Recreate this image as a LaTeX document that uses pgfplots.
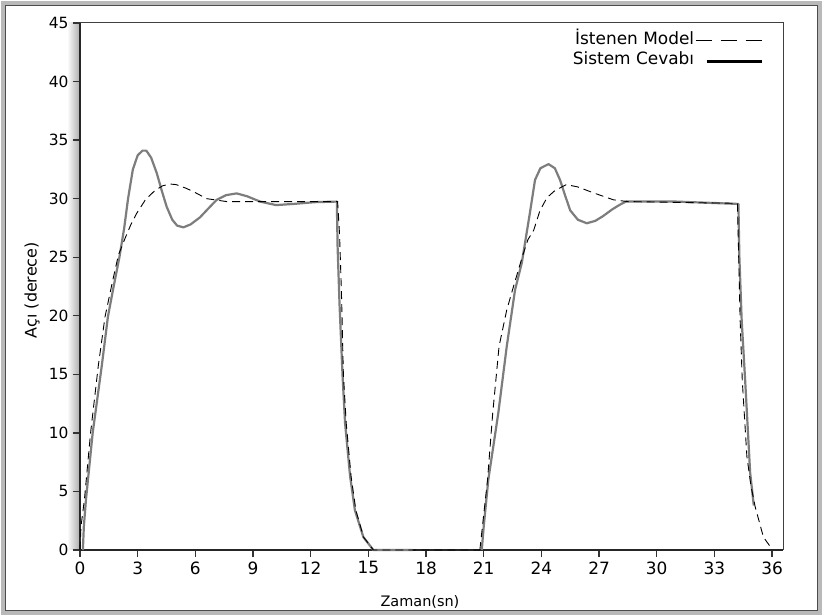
\documentclass[border=0pt]{standalone}
\usepackage{fontspec}
\setmainfont{DejaVu Sans}
\usepackage{pgfplots}
\pgfplotsset{compat=1.18}
\begin{document}
\begin{tikzpicture}[x=1bp,y=1bp]
\path[use as bounding box] (0,0) rectangle (823,616);
\fill[white] (0,0) rectangle (823,616);
\draw[gray!55, line width=4bp] (3,3) rectangle (820,613);
\draw[black!70, line width=0.8bp] (5.5,5.5) rectangle (817.5,610.5);
\shade[left color=white, right color=gray!60] (67,66) rectangle (79,593);
\begin{axis}[
  at={(80bp,66bp)}, anchor=south west, scale only axis,
  width=703bp, height=527bp,
  xmin=0, xmax=36.57, ymin=0, ymax=45,
  xtick={0,3,...,36}, ytick={0,5,...,45},
  tick pos=left, tick align=outside,
  major tick length=7bp,
  tick style={black!80, line width=1.3bp},
  axis line style={black!75, line width=1bp},
  /pgf/number format/assume math mode=true,
  y tick label style={font=\fontsize{15.5}{15.5}\selectfont, xshift=-1bp},
  x tick label style={font=\fontsize{17}{17}\selectfont, yshift=-1bp},
  xlabel={Zaman(sn)},
  xlabel style={at={(axis description cs:0.4836,-0.0987)}, anchor=center, font=\fontsize{14.5}{14.5}\selectfont},
  ylabel={Açı (derece)},
  ylabel style={at={(axis description cs:-0.068,0.493)}, anchor=center, font=\fontsize{16}{16}\selectfont},
  legend plot pos=right,
  legend cell align=right,
  legend style={at={(axis description cs:0.9716,0.990)}, anchor=north east, draw=none, fill=none,
    font=\fontsize{17}{17}\selectfont, row sep=3.5bp, inner sep=0bp, nodes={inner sep=1bp}},
  clip=false,
]
\draw[black!85, line width=2.2bp] (rel axis cs:0,1) -- (rel axis cs:0,0) -- (rel axis cs:1,0);
\addlegendimage{legend image code/.code={\path[draw=none] (0bp,-6bp) -- (0bp,6bp); \draw[black, line width=0.9bp, dash pattern=on 16bp off 9bp] (0bp,-3bp) -- (66bp,-3bp);}}
\addlegendentry{İstenen Model}
\addlegendimage{legend image code/.code={\path[draw=none] (0bp,-6bp) -- (66bp,6bp); \draw[black, line width=2.5bp] (11bp,-2.5bp) -- (66bp,-2.5bp);}}
\addlegendentry{Sistem Cevabı}
% Sistem Cevabi (solid, gray)
\addplot[forget plot, color={rgb,255:red,125;green,125;blue,125}, line width=2.2bp, line join=round] coordinates {
(0.15,0) (0.2,2) (0.31,4.3) (0.66,10) (1.13,15.7) (1.45,19.9) (1.75,22.5) (2.05,25) (2.3,27.5) (2.5,30) (2.75,32.5) (3.0,33.7) (3.25,34.1) (3.45,34.1) (3.7,33.5) (3.99,32.2) (4.25,30.7) (4.51,29.3) (4.8,28.2) (5.05,27.7) (5.38,27.55) (5.75,27.8) (6.24,28.4) (6.7,29.2) (7.11,29.9) (7.6,30.3) (8.15,30.45) (8.7,30.2) (9.37,29.75) (10.2,29.45) (11.1,29.55) (12.2,29.7) (13.36,29.75) (13.4,25.9) (13.5,21) (13.66,14.8) (13.79,10.8) (14.05,6.3) (14.3,3.4) (14.74,1.1) (15.26,0) (17.3,0)
};
\addplot[forget plot, color={rgb,255:red,125;green,125;blue,125}, line width=2.2bp, line join=round] coordinates {
(20.9,0) (21.0,2) (21.24,6) (21.76,11.7) (22.2,17.4) (22.63,22.2) (22.98,24.5) (23.4,28.75) (23.67,31.6) (23.95,32.6) (24.37,32.95) (24.7,32.6) (24.97,31.6) (25.25,30.2) (25.5,29.0) (25.9,28.2) (26.36,27.9) (26.8,28.1) (27.2,28.5) (27.7,29.1) (28.1,29.5) (28.4,29.75) (31,29.75) (34.25,29.55) (34.3,25) (34.42,19.6) (34.6,14.5) (34.86,6.6) (35.05,3.8)
};
% Istenen Model (dashed, black)
\addplot[forget plot, black, line width=0.9bp, dash pattern=on 8bp off 5bp] coordinates {
(0,0) (0.05,2) (0.23,4.3) (0.55,10) (0.95,15.7) (1.3,19.9) (1.7,23) (2.0,25.2) (2.34,26.6) (2.65,27.8) (2.95,28.75) (3.4,29.9) (3.9,30.7) (4.3,31.1) (4.68,31.25) (5.0,31.2) (5.5,30.9) (5.9,30.6) (6.59,30.0) (7.63,29.75) (13.4,29.75) (13.5,27) (13.6,22) (13.7,15) (13.85,10.8) (14.1,6.3) (14.35,3.4) (14.75,1.1) (15.26,0) (20.8,0)
};
\addplot[forget plot, black, line width=0.9bp, dash pattern=on 8bp off 5bp] coordinates {
(20.8,0) (21.0,3) (21.2,6) (21.47,11.7) (21.8,17.4) (22.2,20.5) (22.55,22.5) (23.0,25) (23.3,26.5) (23.6,27.3) (23.93,29) (24.3,30.1) (24.71,30.7) (25.3,31.2) (25.9,31) (26.7,30.5) (27.75,29.9) (28.5,29.75) (34.2,29.6) (34.34,19.6) (34.45,14.5) (34.69,8) (34.9,5.5) (35.12,3.7) (35.55,1.1) (35.99,0.1)
};
\end{axis}
\end{tikzpicture}
\end{document}
